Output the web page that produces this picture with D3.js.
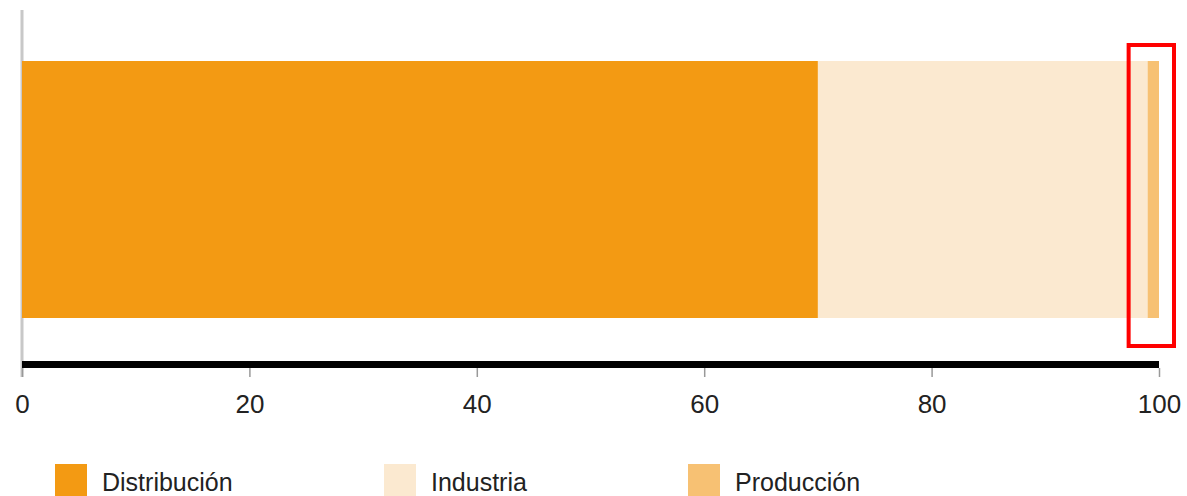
<!DOCTYPE html>
<html>
<head>
<meta charset="utf-8">
<script src="https://cdn.jsdelivr.net/npm/d3@7"></script>
<style>
  body { margin: 0; background: #fff; }
  text { font-family: "Liberation Sans", Arial, sans-serif; fill: #222; }
</style>
</head>
<body>
<script>
// Data
var categories = ['Distribución', 'Industria', 'Producción'];
var values = [70, 29, 1];
var colors = ['#F39A13', '#FBE9D0', '#F7C173'];
var tickValues = [0, 20, 40, 60, 80, 100];

var svgWidth = 1187;
var svgHeight = 496;

var svg = d3.select('body')
    .append('svg')
    .attr('width', svgWidth)
    .attr('height', svgHeight);

// Scales
var xScale = d3.scaleLinear()
    .domain([0, 100])
    .range([22, 1159]);

var yScale = d3.scaleBand()
    .domain(['total'])
    .range([10, 368])
    .paddingInner(0)
    .paddingOuter(0.145);

// Stack the values
var stacked = [];
var acc = 0;
values.forEach(function(v, i) {
    stacked.push({ name: categories[i], x0: acc, x1: acc + v, color: colors[i] });
    acc += v;
});

// Left gray line
svg.append('line')
    .attr('x1', xScale(0)).attr('x2', xScale(0))
    .attr('y1', 10).attr('y2', 377)
    .attr('stroke', '#c8c8c8')
    .attr('stroke-width', 3);

// Bars
var barTop = 61, barBottom = 318;
svg.selectAll('rect.seg')
    .data(stacked)
    .enter()
    .append('rect')
    .attr('class', 'seg')
    .attr('x', d => xScale(d.x0))
    .attr('y', barTop)
    .attr('width', d => xScale(d.x1) - xScale(d.x0))
    .attr('height', barBottom - barTop)
    .attr('fill', d => d.color);

// Axis
var xAxis = d3.axisBottom(xScale)
    .tickValues(tickValues)
    .tickSize(9)
    .tickSizeOuter(0)
    .tickPadding(18);

var axisG = svg.append('g')
    .attr('transform', 'translate(0, 368)')
    .call(xAxis);
axisG.select('.domain').remove();
axisG.selectAll('line').attr('stroke', '#999').attr('stroke-width', 1.5);
axisG.selectAll('text')
    .style('font-size', '26px')
    .style('font-family', '"Liberation Sans", Arial, sans-serif')
    .attr('fill', '#222');

// Thick black baseline
svg.append('line')
    .attr('x1', xScale(0)).attr('x2', xScale(100))
    .attr('y1', 364.5).attr('y2', 364.5)
    .attr('stroke', '#000')
    .attr('stroke-width', 7);

// Red highlight box around Producción
var prod = stacked[2];
svg.append('rect')
    .attr('x', xScale(prod.x0) - 19)
    .attr('y', 45)
    .attr('width', xScale(prod.x1) - xScale(prod.x0) + 34)
    .attr('height', 301)
    .attr('fill', 'none')
    .attr('stroke', '#f00')
    .attr('stroke-width', 4);

// Legend
var legendX = [55, 384, 688];
var legend = svg.selectAll('g.legend')
    .data(stacked)
    .enter()
    .append('g')
    .attr('class', 'legend')
    .attr('transform', (d, i) => `translate(${legendX[i]}, 464)`);
legend.append('rect')
    .attr('width', 32)
    .attr('height', 32)
    .attr('fill', d => d.color);
legend.append('text')
    .attr('x', 47)
    .attr('y', 27)
    .style('font-size', '25px')
    .text(d => d.name);
</script>
</body>
</html>
